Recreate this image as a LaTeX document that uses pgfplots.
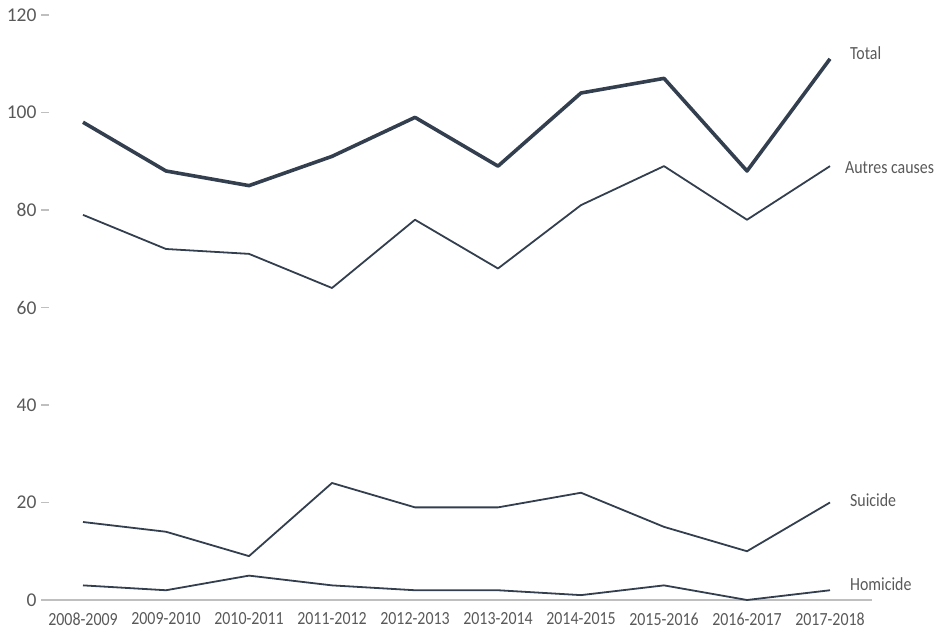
\documentclass[border=0pt]{standalone}
\usepackage{pgfplots}
\pgfplotsset{compat=1.18}
\usepackage{fontspec}
\setmainfont{Carlito}
\definecolor{txt}{RGB}{89,89,89}
\definecolor{ln}{HTML}{333F4F}
\definecolor{ax}{RGB}{191,191,191}
\newcommand{\sq}[1]{\scalebox{0.86}[1]{#1}}
\begin{document}
\begin{tikzpicture}
\useasboundingbox (0,0) rectangle (943pt,640pt);
\begin{axis}[
  at={(83pt,40pt)}, anchor=origin,
  x=83pt, y=4.875pt,
  xmin=-0.5, xmax=9.5, ymin=0, ymax=120,
  clip=false,
  axis x line*=bottom,
  axis y line*=left,
  y axis line style={draw=none},
  x axis line style={draw=ax, line width=1.3pt, -},
  xtick={0,...,9},
  xticklabels={\sq{2008-2009},\sq{2009-2010},\sq{2010-2011},\sq{2011-2012},\sq{2012-2013},\sq{2013-2014},\sq{2014-2015},\sq{2015-2016},\sq{2016-2017},\sq{2017-2018}},
  major x tick style={draw=none},
  extra x ticks={-0.5,0.5,...,9.5},
  extra x tick labels={},
  extra x tick style={major tick length=5pt, tick align=outside, tick style={draw=ax, line width=1.3pt}},
  ytick={0,20,...,120},
  ytick style={draw=ax, line width=1.3pt},
  y tick label style={font=\fontsize{19.5}{22}\selectfont, text=txt, xshift=-1.5pt},
  x tick label style={font=\fontsize{18.5}{22}\selectfont, text=txt, yshift=-9pt},
  /pgf/number format/assume math mode=true,
  major tick length=7pt,
  tick align=inside,
  every axis plot/.append style={no marks, color=ln, line join=round},
]
\addplot[line width=1.8pt] coordinates {(0,79)(1,72)(2,71)(3,64)(4,78)(5,68)(6,81)(7,89)(8,78)(9,89)};
\addplot[line width=1.8pt] coordinates {(0,16)(1,14)(2,9)(3,24)(4,19)(5,19)(6,22)(7,15)(8,10)(9,20)};
\addplot[line width=1.8pt] coordinates {(0,3)(1,2)(2,5)(3,3)(4,2)(5,2)(6,1)(7,3)(8,0)(9,2)};
\addplot[line width=3.6pt] coordinates {(0,98)(1,88)(2,85)(3,91)(4,99)(5,89)(6,104)(7,107)(8,88)(9,111)};
\begin{scope}[every node/.style={anchor=base west, inner sep=0pt, text=txt, font=\fontsize{18.5}{22}\selectfont}]
\node at (axis cs:9.24,110.8) {\sq{Total}};
\node at (axis cs:9.18,87.5) {\sq{Autres causes}};
\node at (axis cs:9.24,19.1) {\sq{Suicide}};
\node at (axis cs:9.24,2.05) {\sq{Homicide}};
\end{scope}
\end{axis}
\end{tikzpicture}
\end{document}
